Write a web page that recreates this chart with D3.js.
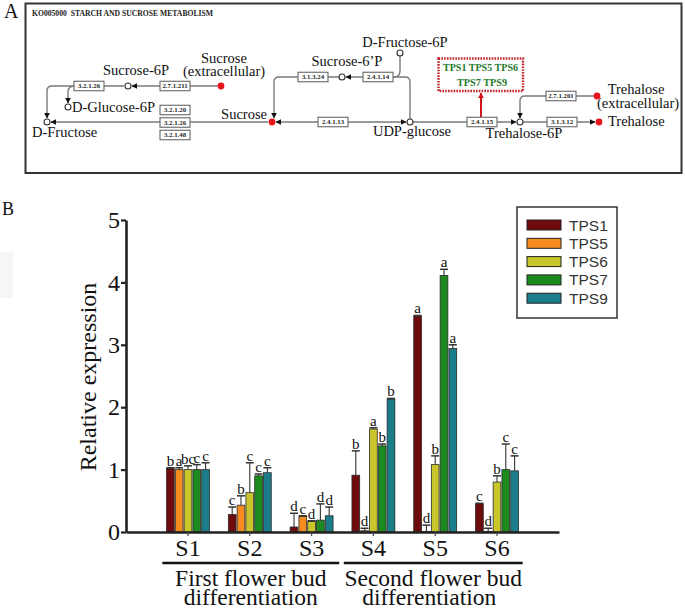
<!DOCTYPE html>
<html><head><meta charset="utf-8">
<script src="https://cdn.jsdelivr.net/npm/d3@7"></script>
<style>
html,body{margin:0;padding:0;background:#fff;}
svg{display:block;}
</style></head>
<body>
<svg id="chart" width="685" height="610"></svg>
<script>
// ---------- Panel B data ----------
const categories = ["S1","S2","S3","S4","S5","S6"];
const seriesNames = ["TPS1","TPS5","TPS6","TPS7","TPS9"];
const seriesColors = ["#6d0b0d","#f68c1f","#c9c62c","#1c8a1e","#1c7d8a"];
const TPS1 = [1.02, 0.28, 0.08, 0.91, 3.46, 0.45];
const TPS5 = [1.00, 0.43, 0.25, 0.02, 0.01, 0.01];
const TPS6 = [1.00, 0.63, 0.17, 1.65, 1.08, 0.80];
const TPS7 = [1.00, 0.90, 0.19, 1.38, 4.11, 1.00];
const TPS9 = [1.00, 0.95, 0.26, 2.13, 2.94, 0.98];
const TPS1err = [0.01, 0.12, 0.22, 0.39, 0.01, 0.01];
const TPS5err = [0.03, 0.15, 0.01, 0.04, 0.10, 0.05];
const TPS6err = [0.06, 0.48, 0.01, 0.02, 0.14, 0.10];
const TPS7err = [0.08, 0.03, 0.26, 0.03, 0.10, 0.41];
const TPS9err = [0.11, 0.08, 0.14, 0.01, 0.06, 0.24];
const TPS1sig = ["b","c","d","b","a","c"];
const TPS5sig = ["a","b","c","d","d","d"];
const TPS6sig = ["bc","c","d","a","b","b"];
const TPS7sig = ["c","c","d","b","a","c"];
const TPS9sig = ["c","c","d","b","a","c"];
const yTicks = [0,1,2,3,4,5];
const groupLabels = [["First flower bud","differentiation"],["Second flower bud","differentiation"]];
const groupMembers = [["S1","S2","S3"],["S4","S5","S6"]];

// ---------- Panel A (pathway) content ----------
const pathwayTitle = "KO005000  STARCH AND SUCROSE METABOLISM";
const enzymeBoxes = [
  {label:"3.2.1.26", x:89,  y:86},
  {label:"2.7.1.211",x:175, y:86},
  {label:"3.2.1.20", x:175, y:110},
  {label:"3.2.1.26", x:175, y:122.5},
  {label:"3.2.1.48", x:175, y:135},
  {label:"3.1.3.24", x:313, y:77},
  {label:"2.4.1.14", x:378, y:77},
  {label:"2.4.1.13", x:333, y:122},
  {label:"2.4.1.15", x:482, y:122},
  {label:"2.7.1.201",x:561, y:96},
  {label:"3.1.3.12", x:562, y:122}
];
const openNodes = [[128,86],[68,107],[47,122],[342,77],[400,53],[410,122],[520,122]];
const redNodes = [[221,86],[272,122],[597,96],[599,122]];
const metaboliteLabels = [
  {t:"Sucrose-6P", x:136, y:75, a:"middle"},
  {t:"Sucrose", x:224, y:63, a:"middle"},
  {t:"(extracellular)", x:224, y:76, a:"middle"},
  {t:"D-Glucose-6P", x:72, y:112, a:"start"},
  {t:"D-Fructose", x:32, y:137, a:"start"},
  {t:"Sucrose", x:267, y:119, a:"end"},
  {t:"Sucrose-6\u2019P", x:347, y:66, a:"middle"},
  {t:"D-Fructose-6P", x:405, y:47, a:"middle"},
  {t:"UDP-glucose", x:412, y:136, a:"middle"},
  {t:"Trehalose-6P", x:524, y:138, a:"middle"},
  {t:"Trehalose", x:608, y:126, a:"start"},
  {t:"Trehalose", x:636, y:94, a:"middle"},
  {t:"(extracellular)", x:638, y:108, a:"middle"}
];
const tpsLines = ["TPS1 TPS5 TPS6","TPS7 TPS9"];

const serif = "'Liberation Serif','Times New Roman',serif";
const sans = "'Liberation Sans',Arial,sans-serif";
const svg = d3.select("#chart");

// ================= PANEL A =================
const defs = svg.append("defs");
function marker(id, color){
  defs.append("marker").attr("id",id).attr("viewBox","0 0 10 10")
    .attr("refX",9).attr("refY",5).attr("markerWidth",6).attr("markerHeight",6)
    .attr("markerUnits","userSpaceOnUse").attr("orient","auto-start-reverse")
    .append("path").attr("d","M0,0L10,5L0,10Z").attr("fill",color);
}
marker("arr","#111");
marker("arrRed","#d0141a");

svg.append("text").attr("x",4).attr("y",18).attr("font-family",serif)
  .attr("font-size",20).attr("fill","#111").text("A");
svg.append("rect").attr("x",25.5).attr("y",3.5).attr("width",656).attr("height",169.5)
  .attr("fill","none").attr("stroke","#333").attr("stroke-width",2);
svg.append("text").attr("x",32).attr("y",16).attr("font-family",serif)
  .attr("font-size",7.8).attr("font-weight","bold").attr("fill","#222")
  .attr("textLength",181).attr("lengthAdjust","spacingAndGlyphs").attr("xml:space","preserve")
  .text(pathwayTitle);

const lineG = svg.append("g").attr("fill","none").attr("stroke","#7a7a7a").attr("stroke-width",1.4);
const paths = [
  {d:"M218,86L132,86", m:"end"},
  {d:"M124,86L52,86Q47,86 47,91L47,118", m:"end"},
  {d:"M75,86Q68,86 68,92L68,103", m:"end"},
  {d:"M268,122L51,122", m:"end"},
  {d:"M276,122L406,122", m:"both"},
  {d:"M410,119L410,82Q410,77 405,77L346,77", m:"end"},
  {d:"M400,56L400,71Q400,77 394,77", m:"none"},
  {d:"M339,77L279,77Q274,77 274,82L274,118", m:"end"},
  {d:"M413,122L516,122", m:"end"},
  {d:"M523,122L595,122", m:"end"},
  {d:"M594,96L525,96Q520,96 520,101L520,118", m:"end"}
];
paths.forEach(p=>{
  const el = lineG.append("path").attr("d",p.d);
  if(p.m==="end"||p.m==="both") el.attr("marker-end","url(#arr)");
  if(p.m==="both") el.attr("marker-start","url(#arr)");
});
// red arrow
svg.append("path").attr("d","M481,117L481,93").attr("stroke","#d0141a").attr("stroke-width",2)
  .attr("fill","none").attr("marker-end","url(#arrRed)");

// enzyme boxes
const bw=30, bh=9.5;
const boxG = svg.append("g").selectAll("g").data(enzymeBoxes).join("g")
  .attr("transform",d=>`translate(${d.x},${d.y})`);
boxG.append("rect").attr("x",-bw/2).attr("y",-bh/2).attr("width",bw).attr("height",bh)
  .attr("fill","#fff").attr("stroke","#666").attr("stroke-width",1.1);
boxG.append("text").attr("text-anchor","middle").attr("y",2.4).attr("font-family",serif)
  .attr("font-size",6.8).attr("font-weight","bold").attr("fill","#222").text(d=>d.label);

svg.append("g").selectAll("circle").data(openNodes).join("circle")
  .attr("cx",d=>d[0]).attr("cy",d=>d[1]).attr("r",3)
  .attr("fill","#fff").attr("stroke","#333").attr("stroke-width",1.1);
svg.append("g").selectAll("circle").data(redNodes).join("circle")
  .attr("cx",d=>d[0]).attr("cy",d=>d[1]).attr("r",3.4).attr("fill","#e8141c");

svg.append("g").selectAll("text").data(metaboliteLabels).join("text")
  .attr("x",d=>d.x).attr("y",d=>d.y).attr("text-anchor",d=>d.a)
  .attr("font-family",serif).attr("font-size",14.5).attr("fill","#111").text(d=>d.t);

// red dotted TPS box
svg.append("rect").attr("x",438.5).attr("y",58.5).attr("width",84.5).attr("height",32.5)
  .attr("fill","#fff").attr("stroke","#c0202a").attr("stroke-width",2.4)
  .attr("stroke-dasharray","1.6,1.2");
svg.append("text").attr("x",480.5).attr("y",70.5).attr("text-anchor","middle")
  .attr("font-family",serif).attr("font-weight","bold").attr("font-size",10.5)
  .attr("fill","#237a2a").attr("textLength",75).attr("lengthAdjust","spacingAndGlyphs")
  .attr("xml:space","preserve").text(tpsLines[0]);
svg.append("text").attr("x",482).attr("y",86).attr("text-anchor","middle")
  .attr("font-family",serif).attr("font-weight","bold").attr("font-size",10.5)
  .attr("fill","#237a2a").attr("textLength",50).attr("lengthAdjust","spacingAndGlyphs")
  .attr("xml:space","preserve").text(tpsLines[1]);

// ================= PANEL B =================
svg.append("text").attr("x",2).attr("y",215).attr("font-family",serif)
  .attr("font-size",18).attr("fill","#111").text("B");
svg.append("rect").attr("x",0).attr("y",252).attr("width",13).attr("height",46).attr("fill","#f6f6f6");

const y = d3.scaleLinear().domain([0,5]).range([532,220]);
const x0 = d3.scaleBand().domain(categories).range([126,559]).paddingInner(0.3).paddingOuter(0.653);
const x1 = d3.scaleBand().domain(seriesNames).range([0,x0.bandwidth()]).paddingInner(0.12).paddingOuter(0.02);

const values = [TPS1,TPS5,TPS6,TPS7,TPS9];
const errs = [TPS1err,TPS5err,TPS6err,TPS7err,TPS9err];
const sigs = [TPS1sig,TPS5sig,TPS6sig,TPS7sig,TPS9sig];
const barData = [];
seriesNames.forEach((s,i)=>categories.forEach((c,j)=>{
  barData.push({s, c, v:values[i][j], e:errs[i][j], sig:sigs[i][j], color:seriesColors[i]});
}));

// y axis
const yAxis = svg.append("g").attr("transform","translate(126,0)")
  .call(d3.axisLeft(y).tickValues(yTicks).tickSize(5).tickSizeOuter(0).tickPadding(1).tickFormat(d3.format("d")));
yAxis.select(".domain").attr("stroke","#222").attr("stroke-width",2.6);
yAxis.selectAll(".tick line").attr("stroke","#222").attr("stroke-width",2.2);
yAxis.selectAll(".tick text").attr("font-family",serif).attr("font-size",24).attr("fill","#111");

svg.append("text").attr("transform","translate(96,377) rotate(-90)").attr("text-anchor","middle")
  .attr("font-family",serif).attr("font-size",24).attr("fill","#111").text("Relative expression");

// bars
const gBars = svg.append("g");
gBars.selectAll("rect").data(barData).join("rect")
  .attr("x",d=>x0(d.c)+x1(d.s)).attr("width",x1.bandwidth())
  .attr("y",d=>y(d.v)).attr("height",d=>y(0)-y(d.v))
  .attr("fill",d=>d.color).attr("stroke","#2a2a2a").attr("stroke-width",0.8);

// error bars
const gErr = svg.append("g").attr("stroke","#333").attr("stroke-width",1.1);
barData.forEach(d=>{
  const cx = x0(d.c)+x1(d.s)+x1.bandwidth()/2;
  gErr.append("line").attr("x1",cx).attr("x2",cx).attr("y1",y(d.v)).attr("y2",y(d.v+d.e));
  gErr.append("line").attr("x1",cx-4).attr("x2",cx+4).attr("y1",y(d.v+d.e)).attr("y2",y(d.v+d.e)).attr("stroke-width",1.5);
});
svg.append("g").selectAll("text").data(barData).join("text")
  .attr("x",d=>x0(d.c)+x1(d.s)+x1.bandwidth()/2).attr("y",d=>y(d.v+d.e)-2)
  .attr("text-anchor","middle").attr("font-family",serif).attr("font-size",15).attr("fill","#111")
  .text(d=>d.sig);

// x axis
const xAxis = svg.append("g").attr("transform","translate(0,532)")
  .call(d3.axisBottom(x0).tickSize(4).tickSizeOuter(0).tickPadding(3));
xAxis.select(".domain").attr("stroke","#222").attr("stroke-width",2.6);
xAxis.selectAll(".tick line").attr("stroke","#444").attr("stroke-width",1.2);
xAxis.selectAll(".tick text").attr("font-family",serif).attr("font-size",24).attr("fill","#111");

// group brackets
groupMembers.forEach((mem,i)=>{
  const xa = x0(mem[0]) - (i===0?4:8);
  const xb = x0(mem[2]) + x0.bandwidth() + (i===0?6:4);
  svg.append("line").attr("x1",xa).attr("x2",xb).attr("y1",563).attr("y2",563)
    .attr("stroke","#111").attr("stroke-width",2.6);
  const cx = (xa+xb)/2;
  svg.append("text").attr("x",cx).attr("y",586).attr("text-anchor","middle")
    .attr("font-family",serif).attr("font-size",23.5).attr("fill","#111").text(groupLabels[i][0]);
  svg.append("text").attr("x",cx-(i===0?0:4)).attr("y",605).attr("text-anchor","middle")
    .attr("font-family",serif).attr("font-size",23.5).attr("fill","#111").text(groupLabels[i][1]);
});

// legend
const lg = svg.append("g");
lg.append("rect").attr("x",517).attr("y",207).attr("width",100).attr("height",111)
  .attr("fill","#fff").attr("stroke","#333").attr("stroke-width",1.5);
seriesNames.forEach((s,i)=>{
  const cy = 225 + i*18.3;
  lg.append("rect").attr("x",527).attr("y",cy-5).attr("width",34).attr("height",10)
    .attr("fill",seriesColors[i]).attr("stroke","#222").attr("stroke-width",1);
  lg.append("text").attr("x",569).attr("y",cy+5.5).attr("font-family",sans)
    .attr("font-size",15.5).attr("fill","#333").text(s);
});
</script>
</body></html>
